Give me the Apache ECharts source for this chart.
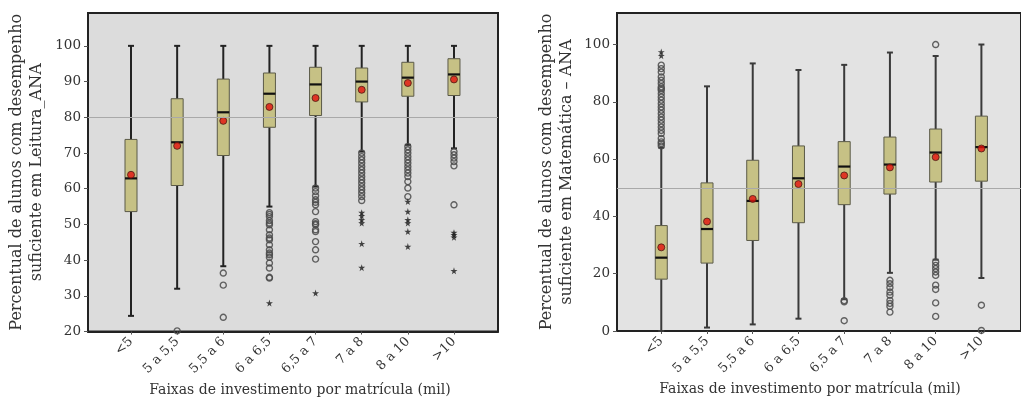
<!DOCTYPE html>
<html>
<head>
<meta charset="utf-8">
<script src="https://cdn.jsdelivr.net/npm/echarts@6/dist/echarts.min.js"></script>
<style>
  html, body { margin: 0; padding: 0; background: #fff; }
  #chart { width: 1021px; height: 402px; }
</style>
</head>
<body>
<div id="chart"></div>
<script>
var categories = ['<5', '5 a 5,5', '5,5 a 6', '6 a 6,5', '6,5 a 7', '7 a 8', '8 a 10', '>10'];

// Leitura (left panel)
var leituraLow  = [24.4, 32.0, 38.3, 55.0, 60.6, 70.4, 72.3, 71.3];
var leituraQ1   = [53.6, 60.9, 69.3, 77.2, 80.5, 84.3, 85.9, 86.1];
var leituraMed  = [62.9, 73.0, 81.4, 86.6, 89.2, 90.0, 91.1, 92.0];
var leituraQ3   = [73.8, 85.2, 90.7, 92.4, 94.0, 93.8, 95.4, 96.4];
var leituraHigh = [100, 100, 100, 100, 100, 100, 100, 100];
var leituraMean = [63.9, 72.0, 79.0, 82.9, 85.4, 87.7, 89.6, 90.6];
var leituraOut = [
  [1, 20.2],
  [2, 36.4], [2, 33.0], [2, 24.0],
  [3, 53.3], [3, 52.8], [3, 52.2], [3, 51.1], [3, 50.4], [3, 49.9], [3, 48.5], [3, 47.1], [3, 46.2],
  [3, 45.7], [3, 44.3], [3, 42.9], [3, 42.0], [3, 41.5], [3, 40.8], [3, 39.2], [3, 37.8], [3, 35.2], [3, 35.0],
  [4, 60.2], [4, 59.2], [4, 58.0], [4, 56.9], [4, 56.2], [4, 55.5], [4, 53.6], [4, 50.8], [4, 50.2],
  [4, 49.9], [4, 48.5], [4, 48.0], [4, 45.2], [4, 42.9], [4, 40.3],
  [5, 70.0], [5, 69.0], [5, 68.1], [5, 67.2], [5, 66.2], [5, 65.3], [5, 64.4], [5, 63.4], [5, 62.5],
  [5, 61.6], [5, 60.6], [5, 59.7], [5, 58.8], [5, 57.8], [5, 56.7],
  [6, 71.8], [6, 70.9], [6, 70.0], [6, 69.0], [6, 68.1], [6, 67.2], [6, 66.2], [6, 65.3], [6, 64.4],
  [6, 63.4], [6, 62.0], [6, 60.2], [6, 57.8],
  [7, 70.4], [7, 69.5], [7, 68.6], [7, 67.6], [7, 66.4], [7, 55.5]
];
var leituraExt = [
  [3, 28.0], [4, 30.8],
  [5, 53.3], [5, 52.4], [5, 51.3], [5, 50.4], [5, 44.6], [5, 37.9],
  [6, 56.4], [6, 53.6], [6, 51.3], [6, 50.4], [6, 48.0], [6, 43.8],
  [7, 47.7], [7, 47.1], [7, 46.4], [7, 37.0]
];
var leituraRef = 80;
var leituraTicks = [20, 30, 40, 50, 60, 70, 80, 90, 100];

// Matematica (right panel)
var matLow  = [0, 1.2, 2.3, 4.3, 11.1, 20.3, 24.9, 18.5];
var matQ1   = [18.1, 23.7, 31.6, 37.8, 44.1, 47.8, 52.0, 52.3];
var matMed  = [25.6, 35.6, 45.4, 53.3, 57.4, 58.1, 62.3, 64.2];
var matQ3   = [36.8, 51.7, 59.6, 64.6, 66.1, 67.7, 70.5, 75.0];
var matHigh = [64.0, 85.4, 93.4, 91.1, 92.9, 97.2, 96.0, 100];
var matMean = [29.2, 38.2, 46.1, 51.3, 54.3, 57.1, 60.7, 63.7];
var matOut = [
  [0, 92.8], [0, 91.6], [0, 90.4], [0, 88.7], [0, 87.5], [0, 86.4], [0, 85.2], [0, 84.6], [0, 84.0],
  [0, 82.9], [0, 81.7], [0, 80.6], [0, 79.4], [0, 78.2], [0, 77.1], [0, 75.9], [0, 74.7], [0, 73.6],
  [0, 72.4], [0, 71.2], [0, 70.0], [0, 68.9], [0, 67.2], [0, 66.0], [0, 65.4], [0, 64.6],
  [4, 10.6], [4, 10.2], [4, 3.6],
  [5, 17.7], [5, 16.5], [5, 15.2], [5, 13.6], [5, 12.5], [5, 10.7], [5, 9.6], [5, 8.6], [5, 6.6],
  [6, 100], [6, 24.1], [6, 22.9], [6, 21.8], [6, 20.6], [6, 19.4], [6, 16.0], [6, 14.5], [6, 9.8], [6, 5.1],
  [7, 9.0], [7, 0.2]
];
var matExt = [[0, 97.4], [0, 96.1]];
var matRef = 50;
var matTicks = [0, 20, 40, 60, 80, 100];

var font = '"DejaVu Serif", serif';
var starPath = 'path://M50 0 L61 35 L98 35 L68 57 L79 91 L50 70 L21 91 L32 57 L2 35 L39 35 Z';
var catIdx = categories.map(function (c, i) { return i; });

function boxData(lo, q1, md, q3, hi) {
  return categories.map(function (c, i) { return [i, lo[i], q1[i], md[i], q3[i], hi[i]]; });
}
function pointData(vals) {
  return vals.map(function (v, i) { return [i, v]; });
}

function makeBoxRender(whiskerColor) {
  return function (params, api) {
    var x = api.value(0);
    var lo = api.coord([x, api.value(1)]);
    var q1 = api.coord([x, api.value(2)]);
    var md = api.coord([x, api.value(3)]);
    var q3 = api.coord([x, api.value(4)]);
    var hi = api.coord([x, api.value(5)]);
    var cx = lo[0], w = 12, cap = 3;
    var ws = { stroke: whiskerColor, lineWidth: 2 };
    return {
      type: 'group',
      children: [
        { type: 'line', shape: { x1: cx, y1: lo[1], x2: cx, y2: q1[1] }, style: ws },
        { type: 'line', shape: { x1: cx, y1: q3[1], x2: cx, y2: hi[1] }, style: ws },
        { type: 'line', shape: { x1: cx - cap, y1: lo[1], x2: cx + cap, y2: lo[1] }, style: ws },
        { type: 'line', shape: { x1: cx - cap, y1: hi[1], x2: cx + cap, y2: hi[1] }, style: ws },
        { type: 'rect', shape: { x: cx - w / 2, y: q3[1], width: w, height: q1[1] - q3[1] },
          style: { fill: '#c6c185', stroke: '#5b5a48', lineWidth: 1 } },
        { type: 'line', shape: { x1: cx - w / 2, y1: md[1], x2: cx + w / 2, y2: md[1] },
          style: { stroke: '#111', lineWidth: 2.2 } }
      ]
    };
  };
}

function xAxisFor(gridIndex, min, max, namePad) {
  return {
    type: 'value', gridIndex: gridIndex, min: min, max: max,
    name: 'Faixas de investimento por matrícula (mil)',
    nameLocation: 'middle', nameGap: 51,
    nameTextStyle: { fontFamily: font, fontSize: 14, color: '#333', padding: namePad },
    splitLine: { show: false },
    axisLine: { show: true, onZero: false, lineStyle: { color: '#222', width: 2 } },
    axisTick: { show: true, customValues: catIdx, length: 3, lineStyle: { color: '#555' } },
    axisLabel: {
      customValues: catIdx, rotate: 45, margin: 8,
      fontFamily: font, fontSize: 13, color: '#333',
      formatter: function (v) { return categories[Math.round(v)]; }
    }
  };
}

function yAxisFor(gridIndex, min, max, ticks, name, gap) {
  return {
    type: 'value', gridIndex: gridIndex, min: min, max: max,
    name: name, nameLocation: 'middle', nameGap: gap, nameRotate: 90,
    nameTextStyle: { fontFamily: font, fontSize: 16, color: '#333', lineHeight: 20 },
    splitLine: { show: false },
    axisLine: { show: true, onZero: false, lineStyle: { color: '#222', width: 2 } },
    axisTick: { show: true, customValues: ticks, length: 4, lineStyle: { color: '#555' } },
    axisLabel: { customValues: ticks, margin: 7, fontFamily: font, fontSize: 13.5, color: '#333' }
  };
}

function panelSeries(idx, boxes, mean, out, ext, ref, whiskerColor) {
  return [
    {
      type: 'scatter', xAxisIndex: idx, yAxisIndex: idx, data: [], z: 1, silent: true,
      markLine: {
        silent: true, symbol: 'none', label: { show: false },
        lineStyle: { color: '#a9a9a9', width: 1.2, type: 'solid' },
        data: [{ yAxis: ref }]
      }
    },
    {
      type: 'custom', xAxisIndex: idx, yAxisIndex: idx, z: 2,
      renderItem: makeBoxRender(whiskerColor),
      encode: { x: 0, y: [1, 2, 3, 4, 5] },
      data: boxes
    },
    {
      type: 'scatter', xAxisIndex: idx, yAxisIndex: idx, z: 3,
      symbol: 'circle', symbolSize: 6,
      itemStyle: { color: 'rgba(0,0,0,0)', borderColor: '#4a4a4a', borderWidth: 1.4, opacity: 0.85 },
      data: out
    },
    {
      type: 'scatter', xAxisIndex: idx, yAxisIndex: idx, z: 3,
      symbol: starPath, symbolSize: 7,
      itemStyle: { color: '#1a1a1a' },
      data: ext
    },
    {
      type: 'scatter', xAxisIndex: idx, yAxisIndex: idx, z: 4,
      symbol: 'circle', symbolSize: 7,
      itemStyle: { color: '#e3120b', borderColor: '#4a1c14', borderWidth: 1 },
      data: mean
    }
  ];
}

var chart = echarts.init(document.getElementById('chart'), null, { renderer: 'canvas' });
chart.setOption({
  animation: false,
  grid: [
    { left: 88, right: 523, top: 13, bottom: 70, show: true,
      backgroundColor: '#dcdcdc', borderColor: '#222', borderWidth: 2 },
    { left: 617, right: -4, top: 13, bottom: 71, show: true,
      backgroundColor: '#e3e3e3', borderColor: '#222', borderWidth: 2 }
  ],
  xAxis: [
    xAxisFor(0, -0.932, 7.954, [0, 0, 0, 14]),
    xAxisFor(1, -0.968, 7.866, [0, 18, 0, 0])
  ],
  yAxis: [
    yAxisFor(0, 20, 109.2, leituraTicks, 'Percentual de alunos com desempenho\nsuficiente em Leitura_ANA', 41),
    yAxisFor(1, 0, 111, matTicks, 'Percentual de alunos com desempenho\nsuficiente em Matemática – ANA', 40)
  ],
  series: [].concat(
    panelSeries(0, boxData(leituraLow, leituraQ1, leituraMed, leituraQ3, leituraHigh),
      pointData(leituraMean), leituraOut, leituraExt, leituraRef, '#222'),
    panelSeries(1, boxData(matLow, matQ1, matMed, matQ3, matHigh),
      pointData(matMean), matOut, matExt, matRef, '#3a3a3a')
  )
});
window.addEventListener('resize', function () { chart.resize(); });
</script>
</body>
</html>
